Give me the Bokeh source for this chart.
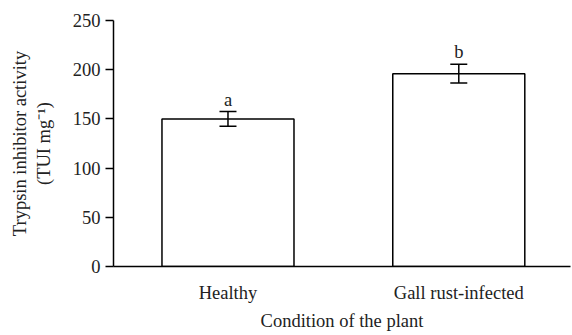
from bokeh.plotting import figure
from bokeh.models import ColumnDataSource, Whisker, TeeHead, FixedTicker, Range1d
from bokeh.core.properties import value
from bokeh.embed import file_html
from bokeh.resources import INLINE

categories = ["Healthy", "Gall rust-infected"]
positions = [1, 2]
means = [150, 196]
errors = [7.5, 9.5]
letters = ["a", "b"]
y_ticks = [0, 50, 100, 150, 200, 250]
x_title = "Condition of the plant"
y_title = "Trypsin inhibitor activity\n(TUI mg\u207b\u00b9)"

FONT = "Liberation Serif"
FS = "18.5px"
TXT = "#222222"

src = ColumnDataSource(dict(
    x=positions,
    top=means,
    upper=[m + e for m, e in zip(means, errors)],
    lower=[m - e for m, e in zip(means, errors)],
    letter=letters,
))

p = figure(width=572, height=335, output_backend="svg", toolbar_location=None,
           x_range=Range1d(0.504, 2.484), y_range=Range1d(0, 250),
           min_border_left=113, min_border_right=2, min_border_top=20,
           min_border_bottom=69)
p.outline_line_color = None
p.grid.visible = False
p.background_fill_color = "white"
p.border_fill_color = "white"

p.vbar(x="x", top="top", bottom=0, width=0.572, source=src,
       fill_color="white", line_color="black", line_width=1.5)

w = Whisker(base="x", upper="upper", lower="lower", source=src,
            line_color="black", line_width=1.5, level="overlay",
            upper_head=TeeHead(size=17, line_color="black", line_width=1.5),
            lower_head=TeeHead(size=17, line_color="black", line_width=1.5))
p.add_layout(w)

p.text(x="x", y="upper", text="letter", source=src, text_align="center",
       text_baseline="alphabetic", y_offset=-12,
       text_font=value(FONT), text_font_size=FS, text_color=TXT)

# axes
p.yaxis.ticker = FixedTicker(ticks=y_ticks)
p.yaxis.minor_tick_line_color = None
p.yaxis.major_tick_out = 8
p.yaxis.major_tick_in = 0
p.yaxis.axis_label = y_title
p.yaxis.axis_label_standoff = 16

p.xaxis.ticker = FixedTicker(ticks=positions)
p.xaxis.major_label_overrides = {pos: c for pos, c in zip(positions, categories)}
p.xaxis.minor_tick_line_color = None
p.xaxis.major_tick_out = 0
p.xaxis.major_tick_in = 0
p.xaxis.major_label_standoff = 16
p.xaxis.axis_label = x_title
p.xaxis.axis_label_standoff = 5

for ax in (p.xaxis, p.yaxis):
    ax.axis_line_width = 1.5
    ax.axis_line_color = "black"
    ax.major_tick_line_width = 1.5
    ax.major_tick_line_color = "black"
    ax.major_label_text_font = FONT
    ax.major_label_text_font_size = FS
    ax.major_label_text_color = TXT
    ax.axis_label_text_font = FONT
    ax.axis_label_text_font_size = FS
    ax.axis_label_text_font_style = "normal"
    ax.axis_label_text_color = TXT

open("out.html", "w").write(file_html(p, INLINE))
